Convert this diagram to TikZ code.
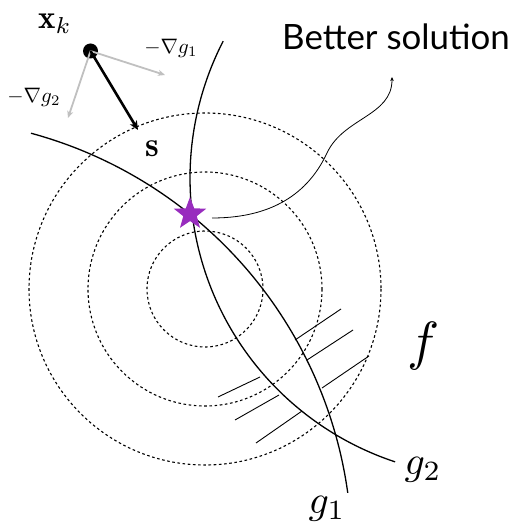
\documentclass[tikz,border=0pt]{standalone}
\usepackage{amsmath}
\usepackage{fontspec}
\newfontfamily\labelsans{Lato}
\usetikzlibrary{arrows.meta,shapes.geometric}
\definecolor{starpurple}{RGB}{152,44,190}
\definecolor{gradgray}{RGB}{192,192,192}
\tikzset{
  contour/.style={draw=black, line width=1.1bp, dash pattern=on 2.6bp off 2.6bp},
  constraint/.style={draw=black, line width=1.3bp},
  hatch/.style={draw=black, line width=0.9bp},
  gradarrow/.style={draw=gradgray, line width=1.8bp, -{Stealth[length=7bp,width=6bp,inset=2bp]}},
  steparrow/.style={draw=black, line width=2.6bp, -{Stealth[length=9bp,width=8bp,inset=2.5bp]}},
  notearrow/.style={draw=black, line width=0.8bp, -{Stealth[length=4bp,width=3.5bp,inset=1bp]}},
  lbl/.style={inner sep=0pt, outer sep=0pt},
}
\begin{document}
\begin{tikzpicture}[x=1bp, y=-1bp]
\useasboundingbox (0,0) rectangle (515,524);
% objective contours
\coordinate (c) at (205,289);
\draw[contour] (c) circle[radius=58];
\draw[contour] (c) circle[radius=117];
\draw[contour] (c) circle[radius=176];
% constraint g1 (circular arc from upper left)
\draw[constraint] plot[domain=7.9:74.85, samples=80, smooth] ({-82.6+434.5*cos(\x)},{552.6-434.5*sin(\x)});
% constraint g2 (circular arc, near vertical)
\draw[constraint] plot[domain=152.75:251.7, samples=80, smooth] ({489+299*cos(\x)},{178-299*sin(\x)});
% hatching
\draw[hatch] (295,340) -- (341,309);
\draw[hatch] (307,360) -- (353,330);
\draw[hatch] (322,388) -- (369,356);
\draw[hatch] (218,397) -- (260,377);
\draw[hatch] (235,420) -- (279,395);
\draw[hatch] (256,443) -- (302,411);
% star
\node[star, star points=5, star point ratio=2.4, fill=starpurple, minimum size=34bp, inner sep=0pt] (opt) at (190,214) {};
% better solution annotation
\coordinate (bsstart) at (212,218);
\coordinate (bsmid) at (327,153);
\coordinate (bsend) at (392,77);
\draw[notearrow] (bsstart) to[out=0, in=-115] (bsmid) to[out=65, in=-90] (bsend);
\node[lbl, anchor=base, font=\labelsans\fontsize{35}{40}\selectfont] (bs) at (396,50) {Better solution};
% current point and arrows
\node[circle, fill=black, minimum size=15bp, inner sep=0pt] (xk) at (90.5,51) {};
\coordinate (g1tip) at (165,75);
\coordinate (g2tip) at (68,118);
\coordinate (stip) at (138,130);
\draw[gradarrow] (xk.center) -- (g1tip);
\draw[gradarrow] (xk.center) -- (g2tip);
\draw[steparrow] (xk.center) -- (stip);
% labels
\node[lbl] (xklbl) at (55,24) {\scalebox{3.3}{$\mathbf{x}_k$}};
\node[lbl] (ng1) at (171,48) {\scalebox{2.1}{$-\nabla g_1$}};
\node[lbl] (ng2) at (34,97) {\scalebox{2.1}{$-\nabla g_2$}};
\node[lbl] (slbl) at (152,149) {\scalebox{3.5}{$\mathbf{s}$}};
\node[lbl] (flbl) at (424,346) {\scalebox{5.4}{$f$}};
\node[lbl] (g2lbl) at (423,470) {\scalebox{4.0}{$g_2$}};
\node[lbl] (g1lbl) at (327,509) {\scalebox{4.0}{$g_1$}};
\end{tikzpicture}
\end{document}
